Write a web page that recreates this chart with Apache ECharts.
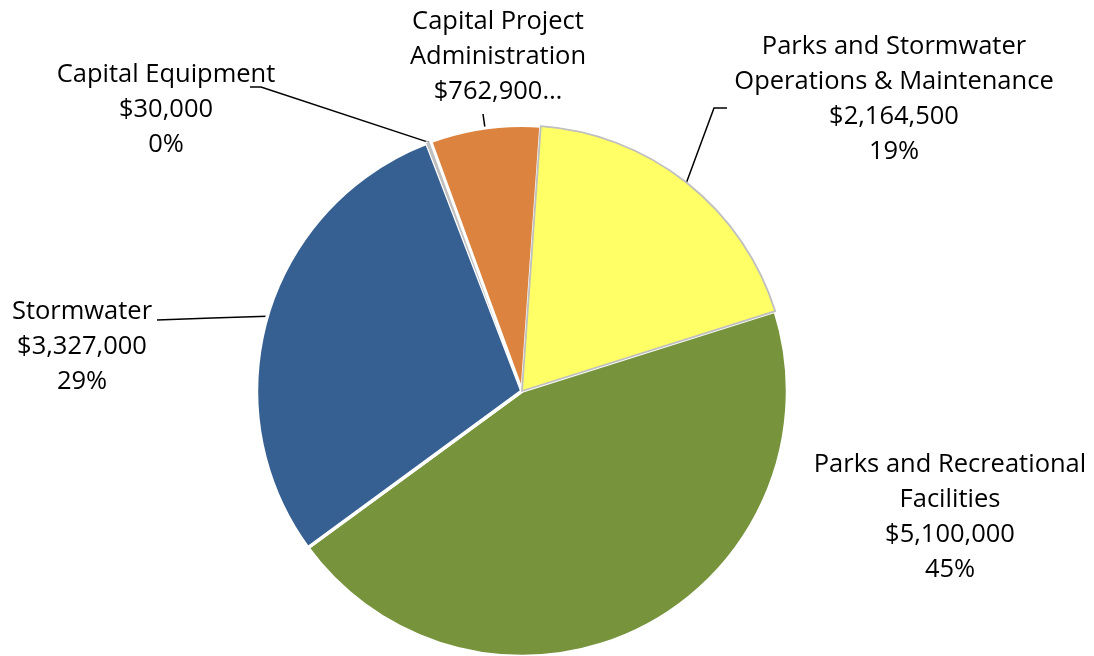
<!DOCTYPE html>
<html>
<head>
<meta charset="utf-8">
<script src="https://cdn.jsdelivr.net/npm/echarts@6/dist/echarts.min.js"></script>
<style>
  html, body { margin: 0; padding: 0; background: #ffffff; }
  #chart { width: 1094px; height: 656px; }
</style>
</head>
<body>
<div id="chart"></div>
<script>
// Capital budget by program, listed clockwise starting at the green slice
const categories = [
  'Parks and Recreational\nFacilities',
  'Stormwater',
  'Capital Equipment',
  'Capital Project\nAdministration',
  'Parks and Stormwater\nOperations & Maintenance'
];
const amounts = [5100000, 3327000, 30000, 762900, 2164500];
// the administration label is cut short after its dollar amount
const cutShort = [false, false, false, true, false];

const sliceColors  = ['#77933C', '#376092', '#BFBFBF', '#DC843F', '#FFFF66'];
const borderColors = ['#ffffff', '#ffffff', '#BFBFBF', '#ffffff', '#BFBFBF'];
const borderWidths = [3.5, 3.5, 1, 3, 1.8];

// centre of each text block, and the leader-line points that meet it
// (given as offsets from that centre)
const labelCenters = [[950, 517], [82, 347], [166, 110], [498, 57], [894, 99]];
const leaderPoints = [
  null,
  [[75, -27]],
  [[95, -23], [84, -23]],
  [[-15, 57]],
  [[-180, 9], [-167, 9]]
];

const chart = echarts.init(document.getElementById('chart'), null, { renderer: 'canvas' });

const money = v => '$' + v.toLocaleString('en-US');

const data = categories.map((name, i) => ({
  name: name,
  value: amounts[i],
  itemStyle: { color: sliceColors[i], borderColor: borderColors[i], borderWidth: borderWidths[i] },
  labelLine: { show: leaderPoints[i] !== null }
}));

chart.setOption({
  animation: false,
  backgroundColor: '#ffffff',
  series: [{
    type: 'pie',
    center: [522, 391],
    radius: 265.5,
    startAngle: 17.5,
    clockwise: true,
    avoidLabelOverlap: false,
    percentPrecision: 0,
    emphasis: { disabled: true },
    data: data,
    label: {
      show: true,
      position: 'outside',
      fontFamily: 'Open Sans',
      fontSize: 25.5,
      lineHeight: 35,
      color: '#000000',
      align: 'center',
      formatter: p => cutShort[p.dataIndex]
        ? p.name + '\n' + money(p.value) + '…'
        : p.name + '\n' + money(p.value) + '\n' + p.percent + '%'
    },
    labelLine: {
      show: true,
      length: 12,
      length2: 12,
      lineStyle: { color: '#000000', width: 1.5 }
    },
    labelLayout: function (p) {
      const i = p.dataIndex;
      const c = labelCenters[i];
      const out = { x: c[0], y: c[1], align: 'center', verticalAlign: 'middle' };
      const anchor = p.labelLinePoints && p.labelLinePoints[0];
      if (anchor && leaderPoints[i]) {
        const pts = [[anchor[0], anchor[1]]].concat(
          leaderPoints[i].map(o => [c[0] + o[0], c[1] + o[1]])
        );
        if (pts.length === 2) {
          pts.splice(1, 0, [(pts[0][0] + pts[1][0]) / 2, (pts[0][1] + pts[1][1]) / 2]);
        }
        out.labelLinePoints = pts;
      }
      return out;
    }
  }]
});
</script>
</body>
</html>
